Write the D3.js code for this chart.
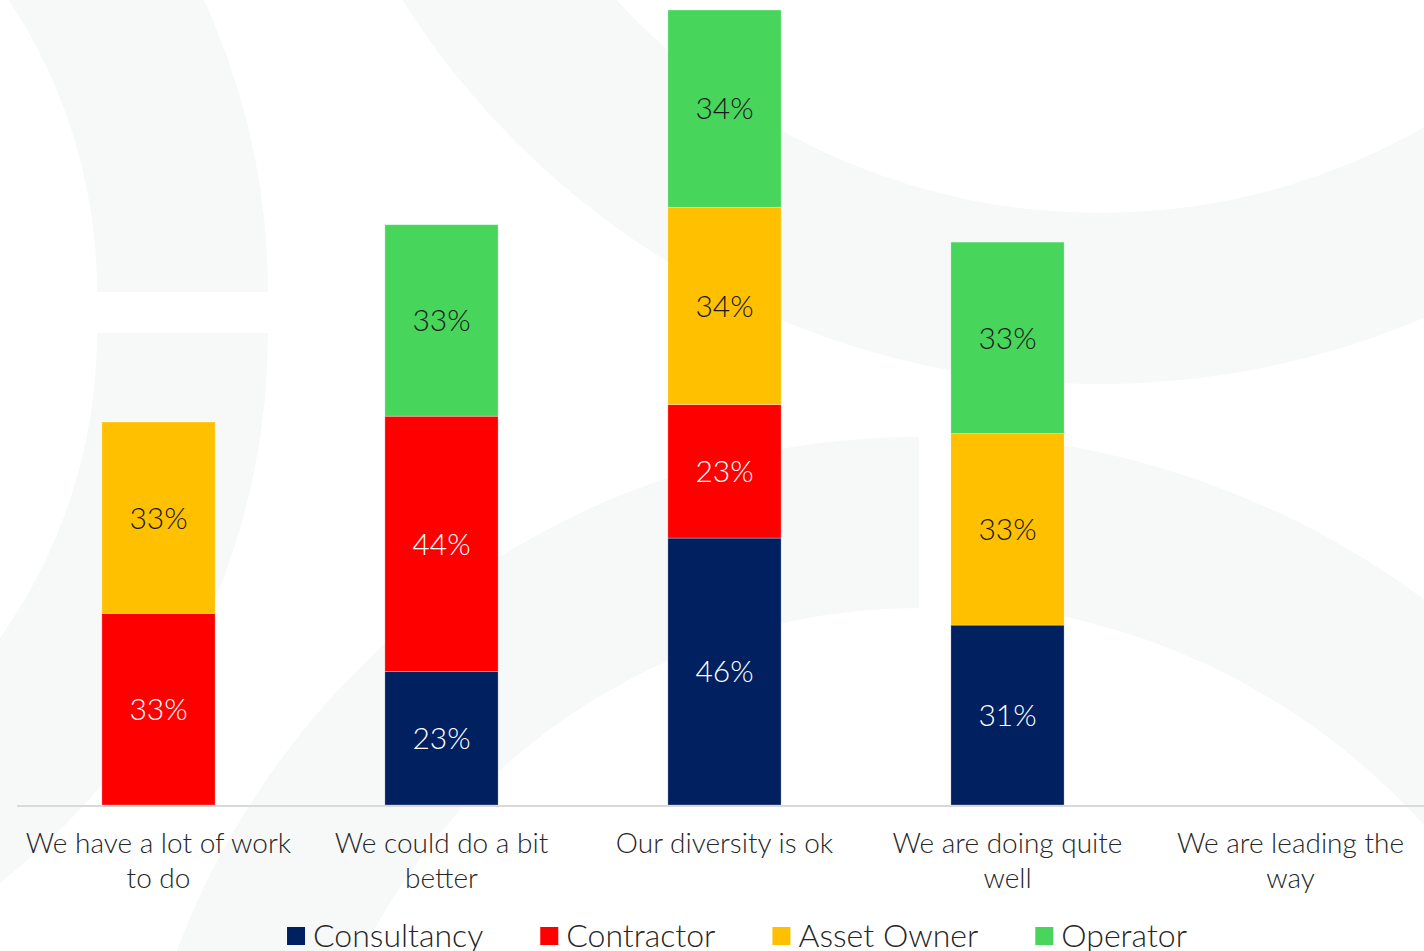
<!DOCTYPE html>
<html>
<head>
<meta charset="utf-8">
<script src="https://cdn.jsdelivr.net/npm/d3@7"></script>
<style>
  html, body { margin: 0; padding: 0; background: #ffffff; overflow: hidden; }
  svg { display: block; font-family: "Lato Light", Lato, "Open Sans", sans-serif; font-weight: 300; }
</style>
</head>
<body>
<svg id="chart" width="1424" height="951"></svg>
<script>
// Survey answers, split by respondent type (percent of each type)
const categories = [
  "We have a lot of work to do",
  "We could do a bit better",
  "Our diversity is ok",
  "We are doing quite well",
  "We are leading the way"
];
const seriesNames = ["Consultancy", "Contractor", "Asset Owner", "Operator"];
const consultancy = [0, 23, 46, 31, 0];
const contractor  = [33, 44, 23, 0, 0];
const assetOwner  = [33, 0, 34, 33, 0];
const operator    = [0, 33, 34, 33, 0];

const seriesColors = ["#002060", "#ff0000", "#ffc000", "#48d55c"];
const valueTextColors = ["#ffffff", "#ffffff", "#1a1a1a", "#1a1a1a"];

const W = 1424, H = 951;
const svg = d3.select("#chart");

// ---- faint watermark rings in the background ----
const wm = svg.append("g").attr("fill", "#f7f8f8");
const ring = d3.arc();
const rings = [
  { cx: -430, cy: 292,  r0: 527, r1: 698, a0: 0,            a1: Math.PI / 2 },
  { cx: -430, cy: 333,  r0: 527, r1: 698, a0: Math.PI / 2,  a1: Math.PI },
  { cx: 1100, cy: -442, r0: 655, r1: 826, a0: Math.PI / 2,  a1: 3 * Math.PI / 2 },
  { cx: 919,  cy: 1230, r0: 622, r1: 793, a0: -Math.PI / 2, a1: 0 },
  { cx: 920,  cy: 1280, r0: 679, r1: 847, a0: 0.06,         a1: Math.PI / 2 }
];
wm.selectAll("path").data(rings).join("path")
  .attr("transform", d => `translate(${d.cx},${d.cy})`)
  .attr("d", d => ring({ innerRadius: d.r0, outerRadius: d.r1, startAngle: d.a0, endAngle: d.a1 }));

// ---- data table & stack ----
const seriesValues = [consultancy, contractor, assetOwner, operator];
const rows = categories.map((c, i) => {
  const r = { category: c };
  seriesNames.forEach((s, j) => { r[s] = seriesValues[j][i]; });
  return r;
});
const stacked = d3.stack().keys(seriesNames)(rows);

const baseline = 805;
const x = d3.scaleBand().domain(categories).range([17, 1432])
  .paddingInner(0.6).paddingOuter(0.3);
const yMax = d3.max(rows, r => d3.sum(seriesNames, s => r[s]));
const y = d3.scaleLinear().domain([0, yMax]).range([baseline, 10]);
const color = d3.scaleOrdinal().domain(seriesNames).range(seriesColors);
const textColor = d3.scaleOrdinal().domain(seriesNames).range(valueTextColors);

// ---- bars ----
const layers = svg.append("g").selectAll("g").data(stacked).join("g")
  .attr("fill", d => color(d.key));

layers.selectAll("rect")
  .data(d => d.map(p => ({ key: d.key, p })).filter(e => e.p[1] - e.p[0] > 0))
  .join("rect")
  .attr("x", e => x(e.p.data.category))
  .attr("width", x.bandwidth())
  .attr("y", e => y(e.p[1]))
  .attr("height", e => y(e.p[0]) - y(e.p[1]))
  .attr("stroke", "#ffffff")
  .attr("stroke-opacity", 0.35)
  .attr("stroke-width", 0.8);

// ---- value labels ----
layers.selectAll("text")
  .data(d => d.map(p => ({ key: d.key, p })).filter(e => e.p[1] - e.p[0] > 0))
  .join("text")
  .attr("x", e => x(e.p.data.category) + x.bandwidth() / 2)
  .attr("y", e => (y(e.p[0]) + y(e.p[1])) / 2)
  .attr("dy", "0.36em")
  .attr("text-anchor", "middle")
  .attr("font-size", 30)
  .attr("fill", e => textColor(e.key))
  .text(e => (e.p[1] - e.p[0]) + "%");

// ---- category axis ----
const xAxis = svg.append("g")
  .attr("transform", `translate(0,${baseline + 1})`)
  .call(d3.axisBottom(x).tickSize(0).tickPadding(0).tickSizeOuter(0));
xAxis.select(".domain")
  .attr("stroke", "#d9d9d9")
  .attr("stroke-width", 2)
  .attr("d", `M17,0H${W}`);
xAxis.selectAll(".tick text").remove();

const maxLabelWidth = x.step() * 0.97;
const catLabels = svg.append("g").attr("font-size", 28).attr("fill", "#262626");
categories.forEach(c => {
  const cx = x(c) + x.bandwidth() / 2;
  const t = catLabels.append("text")
    .attr("x", cx)
    .attr("y", 853)
    .attr("text-anchor", "middle");
  const words = c.split(" ");
  let line = [];
  let tspan = t.append("tspan").attr("x", cx).attr("dy", 0);
  words.forEach(w => {
    line.push(w);
    tspan.text(line.join(" "));
    if (tspan.node().getComputedTextLength() > maxLabelWidth && line.length > 1) {
      line.pop();
      tspan.text(line.join(" "));
      line = [w];
      tspan = t.append("tspan").attr("x", cx).attr("dy", 35).text(w);
    }
  });
});

// ---- legend ----
const legend = svg.append("g").attr("font-size", 32).attr("fill", "#262626");
const items = legend.selectAll("g").data(seriesNames).join("g");
items.append("rect")
  .attr("width", 18).attr("height", 18)
  .attr("y", 927)
  .attr("fill", d => color(d));
items.append("text")
  .attr("x", 26).attr("y", 947)
  .text(d => d);
let offset = 0;
const positions = [];
items.each(function () {
  const tw = d3.select(this).select("text").node().getComputedTextLength();
  positions.push(offset);
  offset += 26 + tw + 57;
});
const totalW = offset - 57;
const startX = 737 - totalW / 2;
items.attr("transform", (d, i) => `translate(${startX + positions[i]},0)`);
</script>
</body>
</html>
